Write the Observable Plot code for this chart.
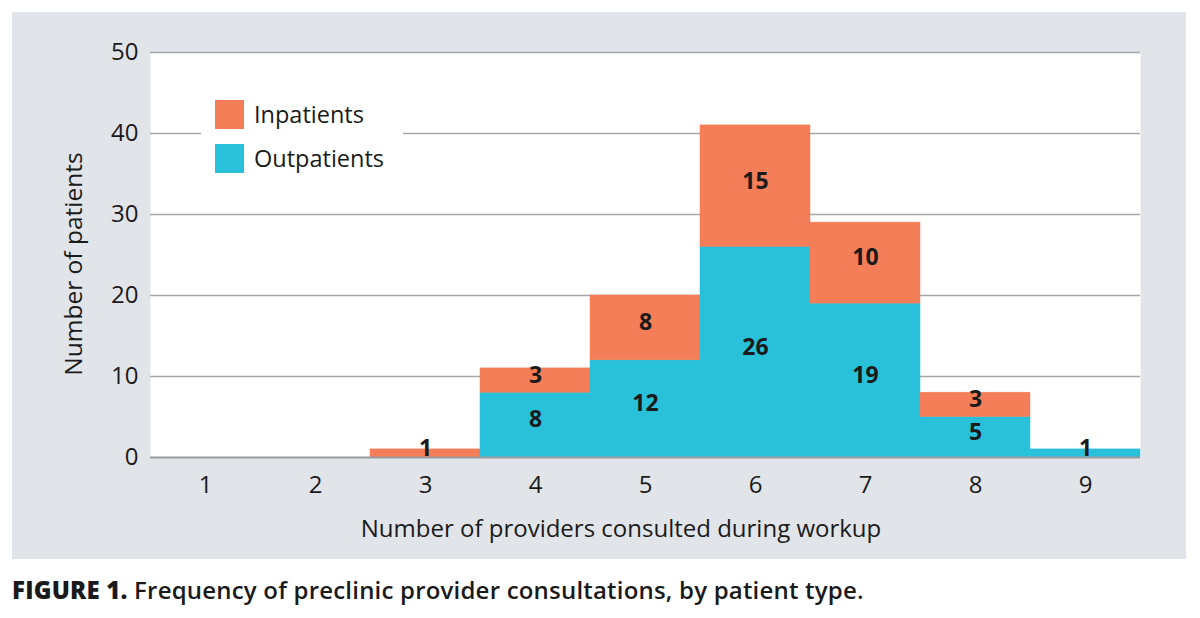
<!DOCTYPE html>
<html>
<head>
<meta charset="utf-8">
<script src="https://cdn.jsdelivr.net/npm/d3@7"></script>
<script src="https://cdn.jsdelivr.net/npm/@observablehq/plot@0.6"></script>
<style>
  html, body { margin: 0; padding: 0; background: #ffffff; }
  body { width: 1200px; height: 618px; position: relative; overflow: hidden; font-family: "Open Sans", "Noto Sans", sans-serif; }
  #panel { position: absolute; left: 12px; top: 12px; width: 1174px; height: 547px; background: #e1e4e9; }
  #chart { position: absolute; left: 0; top: 0; }
  #chart svg { background: transparent; overflow: visible; }
  .title-x { position: absolute; left: 621px; top: 527px; transform: translate(-50%, -50%); font-size: 24px; color: #1a1a1a; white-space: nowrap; }
  .title-y { position: absolute; left: 72px; top: 264px; transform: translate(-50%, -50%) rotate(-90deg); font-size: 24.5px; color: #1a1a1a; white-space: nowrap; }
  #legend { position: absolute; left: 201px; top: 94px; width: 202px; height: 88px; background: #ffffff; }
  .lg-item { position: absolute; left: 14px; display: flex; align-items: center; font-size: 23.5px; color: #1a1a1a; }
  .lg-sw { width: 29px; height: 29px; margin-right: 10px; }
  #caption { position: absolute; left: 12px; top: 589px; transform: translateY(-50%); font-size: 24px; font-weight: 600; color: #1a1a1a; white-space: nowrap; letter-spacing: 0.2px; }
  #caption b { font-weight: 800; }
</style>
</head>
<body>
<div id="panel"><div id="chart"></div></div>
<div class="title-y">Number of patients</div>
<div class="title-x">Number of providers consulted during workup</div>
<div id="legend"></div>
<div id="caption"><b>FIGURE 1.</b> Frequency of preclinic provider consultations, by patient type.</div>
<script>
// ---- data ----
const categories = ["1", "2", "3", "4", "5", "6", "7", "8", "9"];
const outpatients = [0, 0, 0, 8, 12, 26, 19, 5, 1];
const inpatients  = [0, 0, 1, 3, 8, 15, 10, 3, 0];
const seriesNames = ["Outpatients", "Inpatients"];
const seriesColors = ["#29c0da", "#f47e58"];
const yTicks = [0, 10, 20, 30, 40, 50];

const rows = [];
categories.forEach((c, i) => {
  rows.push({cat: c, series: "Outpatients", value: outpatients[i]});
  rows.push({cat: c, series: "Inpatients", value: inpatients[i]});
});
const nonZero = rows.filter(d => d.value > 0);

const stackOpts = {x: "cat", y: "value", z: "series", order: seriesNames};

const W = 1174, H = 547;
const chart = Plot.plot({
  width: W,
  height: H,
  marginLeft: 138,
  marginRight: 46,
  marginTop: 40,
  marginBottom: 102,
  style: {background: "transparent", fontFamily: "'Open Sans', 'Noto Sans', sans-serif", color: "#1a1a1a"},
  x: {type: "band", domain: categories, padding: 0, label: null},
  y: {domain: [0, 50], label: null},
  color: {domain: seriesNames, range: seriesColors},
  marks: [
    Plot.frame({fill: "#ffffff", stroke: null}),
    Plot.ruleY(yTicks.filter(t => t > 0), {stroke: "#a6a7ab", strokeWidth: 1.5}),
    Plot.barY(nonZero, Plot.stackY({...stackOpts, fill: "series", stroke: "series", strokeWidth: 0.5})),
    Plot.ruleY([0], {stroke: "#9a9a9e", strokeWidth: 2}),
    Plot.text(nonZero, Plot.stackY({...stackOpts, text: d => String(d.value), fontSize: 23, fontWeight: 700, fill: "#1a1a1a", dy: -5})),
    Plot.axisY(yTicks, {tickSize: 0, tickPadding: 12, fontSize: 24, label: null}),
    Plot.axisX({tickSize: 0, tickPadding: 18, fontSize: 24, label: null})
  ]
});
document.getElementById("chart").appendChild(chart);

// legend (Inpatients on top)
const legend = document.getElementById("legend");
[["Inpatients", seriesColors[1], 4], ["Outpatients", seriesColors[0], 48]].forEach(([name, col, top]) => {
  const item = document.createElement("div");
  item.className = "lg-item";
  item.style.top = top + "px";
  const sw = document.createElement("div");
  sw.className = "lg-sw";
  sw.style.background = col;
  const t = document.createElement("span");
  t.textContent = name;
  item.appendChild(sw);
  item.appendChild(t);
  legend.appendChild(item);
});
</script>
</body>
</html>
